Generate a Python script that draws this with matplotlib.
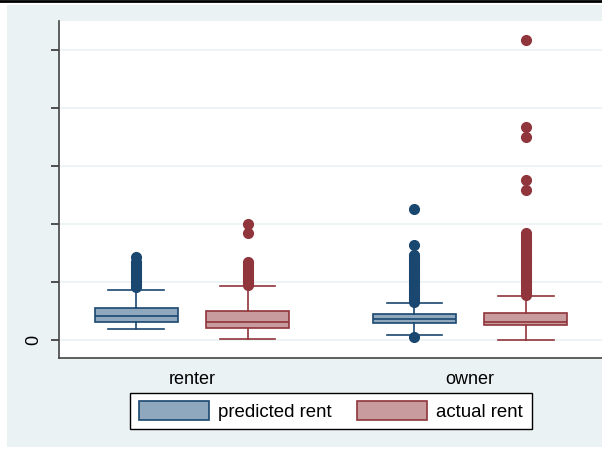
import numpy as np
import matplotlib.pyplot as plt
from matplotlib.patches import Patch, Rectangle
from matplotlib.lines import Line2D

plt.rcParams['font.family'] = ['Liberation Sans', 'DejaVu Sans']

# data (rent units)
groups = ["renter", "owner"]
series = ["predicted rent", "actual rent"]

whislo = [95, 9, 43, 0]
q1 = [155, 103, 147, 129]
med = [207, 155, 181, 155]
q3 = [276, 250, 224, 233]
whishi = [431, 466, 319, 379]

fliers_renter_pred = [457, 470, 483, 497, 510, 524, 538, 552, 566, 580, 594,
                      608, 622, 636, 650, 664, 672, 716]
fliers_renter_act = [474, 487, 500, 513, 526, 540, 554, 568, 582, 596, 610,
                     624, 638, 652, 666, 672, 922, 1000]
fliers_owner_pred = [26, 328, 342, 356, 370, 384, 398, 412, 426, 440, 455,
                     470, 485, 500, 515, 530, 545, 560, 575, 590, 605, 620,
                     635, 650, 665, 680, 695, 710, 725, 733, 819, 1129]
fliers_owner_act = [388, 402, 416, 430, 444, 458, 472, 486, 500, 515, 530,
                    545, 560, 575, 590, 605, 620, 635, 650, 665, 680, 695,
                    710, 725, 740, 755, 770, 785, 800, 815, 830, 845, 860,
                    875, 890, 905, 922, 1293, 1379, 1750, 1836, 2586]
fliers = [fliers_renter_pred, fliers_renter_act, fliers_owner_pred, fliers_owner_act]

positions = [1, 2, 3.5, 4.5]
y_ticks = [0, 500, 1000, 1500, 2000, 2500]
y_labels = ["0", "", "", "", "", ""]

blue_edge = "#1a476f"
blue_fill = "#90a8be"
red_edge = "#90353b"
red_fill = "#c89b9f"
bg = "#eaf2f3"

fig = plt.figure(figsize=(6.02, 4.49), dpi=100)
fig.patches.append(Rectangle((7/602, 2/449), 595/602, 442/449,
                             transform=fig.transFigure, facecolor=bg,
                             edgecolor="none", zorder=-10))
fig.lines.append(Line2D([0, 1], [0.998, 0.998], transform=fig.transFigure,
                        color="black", linewidth=2))

ax = fig.add_axes([59/602, 1 - 358/449, 1 - 59/602, 337/449])
ax.set_facecolor("white")

stats = []
for i in range(4):
    stats.append(dict(whislo=whislo[i], q1=q1[i], med=med[i], q3=q3[i],
                      whishi=whishi[i], fliers=fliers[i]))

for i in range(4):
    ec = blue_edge if i % 2 == 0 else red_edge
    fc = blue_fill if i % 2 == 0 else red_fill
    ax.bxp([stats[i]], positions=[positions[i]], widths=0.75, capwidths=0.5,
           patch_artist=True, manage_ticks=False,
           boxprops=dict(facecolor=fc, edgecolor=ec, linewidth=1.2),
           medianprops=dict(color=ec, linewidth=1.2),
           whiskerprops=dict(color=ec, linewidth=1.2),
           capprops=dict(color=ec, linewidth=1.2),
           flierprops=dict(marker="o", markerfacecolor=ec, markeredgecolor=ec,
                           markersize=7, linestyle="none"))

ax.set_xlim(0.306, 5.185)
ax.set_ylim(-155, 2750)
ax.set_yticks(y_ticks)
ax.set_yticklabels(y_labels, rotation=90, va="center", fontsize=13)
ax.set_xticks([1.5, 4.0])
ax.set_xticklabels(groups, fontsize=13)
ax.tick_params(axis="x", length=0, pad=9)
ax.tick_params(axis="y", length=6, width=1.2, color="#333333", pad=6)
ax.yaxis.grid(True, color=bg, linewidth=1.2)
ax.set_axisbelow(True)
for s in ["top", "right"]:
    ax.spines[s].set_visible(False)
for s in ["left", "bottom"]:
    ax.spines[s].set_color("#444444")
    ax.spines[s].set_linewidth(1.2)

handles = [Patch(facecolor=blue_fill, edgecolor=blue_edge, linewidth=1.2),
           Patch(facecolor=red_fill, edgecolor=red_edge, linewidth=1.2)]
leg = fig.legend(handles, series, loc="center", ncol=2,
                 bbox_to_anchor=(331/602, 1 - 411/449),
                 bbox_transform=fig.transFigure, fontsize=13.4,
                 handlelength=3.76, handleheight=1.15, handletextpad=0.48,
                 columnspacing=1.4, borderpad=0.45, fancybox=False,
                 edgecolor="black", framealpha=1)
leg.get_frame().set_linewidth(1.0)

plt.savefig("out.png", dpi=100)
